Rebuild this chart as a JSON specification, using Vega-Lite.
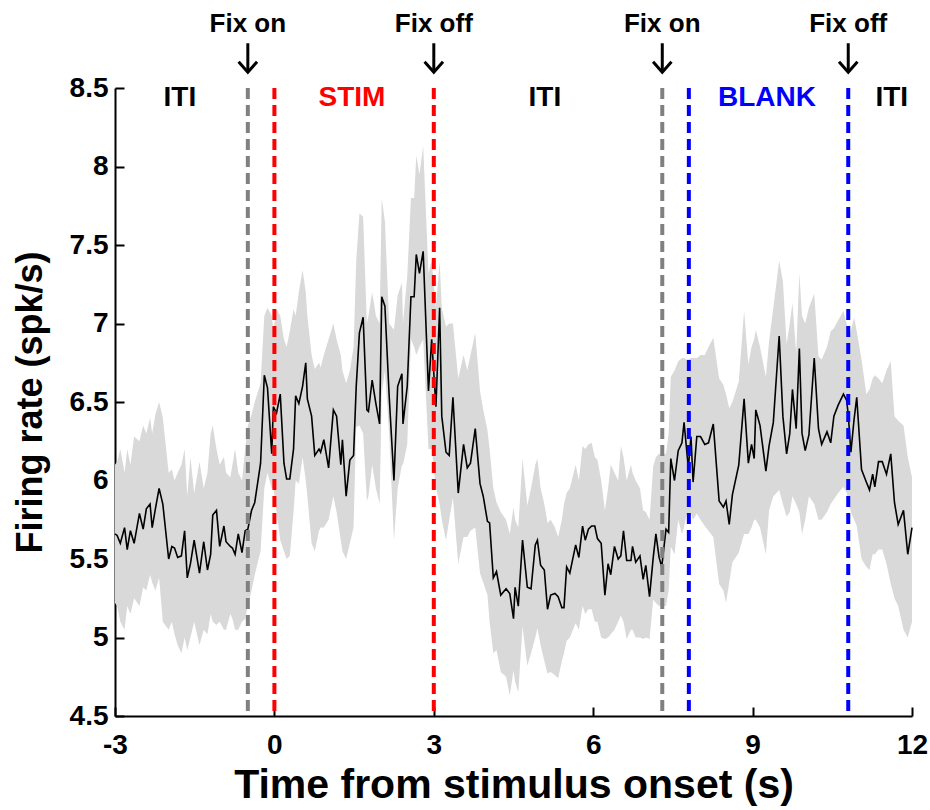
{
  "$schema": "https://vega.github.io/schema/vega-lite/v6.json",
  "width": 797,
  "height": 628,
  "autosize": {"type": "none"},
  "padding": {"left": 115, "top": 88, "right": 18, "bottom": 94},
  "background": "white",
  "config": {
    "view": {"stroke": null},
    "font": "Liberation Sans",
    "axis": {
      "grid": false,
      "domainColor": "black",
      "domainWidth": 2,
      "tickColor": "black",
      "tickWidth": 2,
      "tickSize": -9,
      "labelFont": "Liberation Sans",
      "labelFontSize": 28,
      "labelFontWeight": "bold",
      "labelColor": "black",
      "labelFlush": false,
      "labelOverlap": false,
      "labelExpr": "'' + datum.value",
      "titleFont": "Liberation Sans",
      "titleFontWeight": "bold",
      "titleColor": "black"
    },
    "axisX": {"labelPadding": 24, "titlePadding": 6, "titleFontSize": 41},
    "axisY": {"labelPadding": 16, "titlePadding": 20, "titleFontSize": 36}
  },
  "datasets": {
    "rate": [
      {"t": -3.00, "rate": 5.66, "lo": 5.22, "hi": 6.10},
      {"t": -2.96, "rate": 5.65, "lo": 5.20, "hi": 6.12},
      {"t": -2.90, "rate": 5.60, "lo": 5.10, "hi": 6.20},
      {"t": -2.82, "rate": 5.70, "lo": 5.05, "hi": 6.05},
      {"t": -2.77, "rate": 5.56, "lo": 5.20, "hi": 6.20},
      {"t": -2.71, "rate": 5.68, "lo": 5.15, "hi": 6.10},
      {"t": -2.64, "rate": 5.60, "lo": 5.25, "hi": 6.28},
      {"t": -2.54, "rate": 5.79, "lo": 5.20, "hi": 6.25},
      {"t": -2.47, "rate": 5.69, "lo": 5.32, "hi": 6.35},
      {"t": -2.41, "rate": 5.82, "lo": 5.30, "hi": 6.30},
      {"t": -2.34, "rate": 5.85, "lo": 5.40, "hi": 6.40},
      {"t": -2.30, "rate": 5.70, "lo": 5.35, "hi": 6.30},
      {"t": -2.24, "rate": 5.82, "lo": 5.30, "hi": 6.42},
      {"t": -2.17, "rate": 5.95, "lo": 5.38, "hi": 6.50},
      {"t": -2.10, "rate": 5.85, "lo": 5.10, "hi": 6.40},
      {"t": -1.99, "rate": 5.50, "lo": 5.05, "hi": 6.05},
      {"t": -1.93, "rate": 5.58, "lo": 5.10, "hi": 6.07},
      {"t": -1.88, "rate": 5.57, "lo": 5.02, "hi": 6.00},
      {"t": -1.82, "rate": 5.51, "lo": 4.95, "hi": 6.05},
      {"t": -1.75, "rate": 5.52, "lo": 4.90, "hi": 6.10},
      {"t": -1.69, "rate": 5.68, "lo": 5.00, "hi": 6.20},
      {"t": -1.64, "rate": 5.38, "lo": 4.92, "hi": 5.90},
      {"t": -1.58, "rate": 5.47, "lo": 5.00, "hi": 6.15},
      {"t": -1.51, "rate": 5.62, "lo": 5.10, "hi": 5.92},
      {"t": -1.41, "rate": 5.41, "lo": 4.95, "hi": 6.12},
      {"t": -1.33, "rate": 5.61, "lo": 5.05, "hi": 5.95},
      {"t": -1.26, "rate": 5.43, "lo": 5.02, "hi": 6.05},
      {"t": -1.20, "rate": 5.53, "lo": 5.15, "hi": 6.30},
      {"t": -1.16, "rate": 5.78, "lo": 5.10, "hi": 6.35},
      {"t": -1.09, "rate": 5.81, "lo": 5.08, "hi": 6.20},
      {"t": -1.03, "rate": 5.58, "lo": 5.10, "hi": 6.10},
      {"t": -0.95, "rate": 5.71, "lo": 5.05, "hi": 6.15},
      {"t": -0.91, "rate": 5.61, "lo": 5.05, "hi": 6.05},
      {"t": -0.83, "rate": 5.58, "lo": 5.15, "hi": 6.02},
      {"t": -0.79, "rate": 5.57, "lo": 5.12, "hi": 6.10},
      {"t": -0.74, "rate": 5.53, "lo": 5.05, "hi": 6.20},
      {"t": -0.68, "rate": 5.66, "lo": 5.05, "hi": 6.05},
      {"t": -0.61, "rate": 5.54, "lo": 5.10, "hi": 6.00},
      {"t": -0.55, "rate": 5.68, "lo": 5.12, "hi": 6.20},
      {"t": -0.50, "rate": 5.69, "lo": 5.20, "hi": 6.35},
      {"t": -0.43, "rate": 5.81, "lo": 5.30, "hi": 6.42},
      {"t": -0.37, "rate": 5.86, "lo": 5.40, "hi": 6.50},
      {"t": -0.26, "rate": 6.11, "lo": 5.55, "hi": 6.62},
      {"t": -0.19, "rate": 6.67, "lo": 5.95, "hi": 7.05},
      {"t": -0.13, "rate": 6.59, "lo": 6.05, "hi": 7.10},
      {"t": -0.05, "rate": 6.17, "lo": 5.95, "hi": 7.05},
      {"t": -0.02, "rate": 6.47, "lo": 5.96, "hi": 6.95},
      {"t": 0.04, "rate": 6.43, "lo": 5.80, "hi": 7.09},
      {"t": 0.11, "rate": 6.55, "lo": 5.62, "hi": 7.05},
      {"t": 0.18, "rate": 6.11, "lo": 5.55, "hi": 6.90},
      {"t": 0.23, "rate": 6.01, "lo": 5.50, "hi": 6.85},
      {"t": 0.29, "rate": 6.01, "lo": 5.52, "hi": 6.95},
      {"t": 0.36, "rate": 6.20, "lo": 5.80, "hi": 7.09},
      {"t": 0.40, "rate": 6.54, "lo": 6.00, "hi": 7.05},
      {"t": 0.46, "rate": 6.49, "lo": 5.98, "hi": 7.20},
      {"t": 0.53, "rate": 6.60, "lo": 6.15, "hi": 7.34},
      {"t": 0.59, "rate": 6.75, "lo": 6.00, "hi": 7.20},
      {"t": 0.62, "rate": 6.52, "lo": 5.90, "hi": 7.05},
      {"t": 0.70, "rate": 6.41, "lo": 5.60, "hi": 6.80},
      {"t": 0.76, "rate": 6.16, "lo": 5.55, "hi": 6.71},
      {"t": 0.84, "rate": 6.20, "lo": 5.68, "hi": 6.75},
      {"t": 0.87, "rate": 6.18, "lo": 5.70, "hi": 6.72},
      {"t": 0.93, "rate": 6.26, "lo": 5.70, "hi": 6.80},
      {"t": 1.02, "rate": 6.08, "lo": 5.75, "hi": 6.90},
      {"t": 1.11, "rate": 6.45, "lo": 5.90, "hi": 7.00},
      {"t": 1.17, "rate": 6.41, "lo": 5.80, "hi": 6.90},
      {"t": 1.25, "rate": 6.10, "lo": 5.62, "hi": 6.80},
      {"t": 1.28, "rate": 6.26, "lo": 5.55, "hi": 6.70},
      {"t": 1.35, "rate": 5.90, "lo": 5.50, "hi": 6.62},
      {"t": 1.42, "rate": 6.13, "lo": 5.60, "hi": 6.70},
      {"t": 1.49, "rate": 6.16, "lo": 5.70, "hi": 6.85},
      {"t": 1.54, "rate": 6.60, "lo": 6.34, "hi": 7.40},
      {"t": 1.60, "rate": 6.94, "lo": 6.35, "hi": 7.70},
      {"t": 1.67, "rate": 7.04, "lo": 6.30, "hi": 7.68},
      {"t": 1.74, "rate": 6.45, "lo": 5.87, "hi": 7.00},
      {"t": 1.77, "rate": 6.44, "lo": 5.90, "hi": 7.05},
      {"t": 1.84, "rate": 6.64, "lo": 6.10, "hi": 7.20},
      {"t": 1.91, "rate": 6.49, "lo": 5.95, "hi": 7.05},
      {"t": 1.98, "rate": 6.36, "lo": 5.85, "hi": 7.00},
      {"t": 2.02, "rate": 7.17, "lo": 6.55, "hi": 7.80},
      {"t": 2.08, "rate": 7.11, "lo": 6.70, "hi": 7.65},
      {"t": 2.16, "rate": 6.54, "lo": 6.30, "hi": 7.00},
      {"t": 2.25, "rate": 6.00, "lo": 5.62, "hi": 6.96},
      {"t": 2.32, "rate": 6.60, "lo": 5.95, "hi": 7.18},
      {"t": 2.40, "rate": 6.68, "lo": 6.10, "hi": 7.26},
      {"t": 2.42, "rate": 6.36, "lo": 6.10, "hi": 7.00},
      {"t": 2.50, "rate": 6.60, "lo": 6.23, "hi": 7.30},
      {"t": 2.57, "rate": 7.17, "lo": 6.90, "hi": 7.80},
      {"t": 2.63, "rate": 7.17, "lo": 6.85, "hi": 7.80},
      {"t": 2.67, "rate": 7.44, "lo": 6.80, "hi": 8.07},
      {"t": 2.73, "rate": 7.32, "lo": 6.85, "hi": 7.95},
      {"t": 2.80, "rate": 7.46, "lo": 6.90, "hi": 8.13},
      {"t": 2.90, "rate": 6.57, "lo": 6.20, "hi": 7.32},
      {"t": 2.96, "rate": 6.90, "lo": 6.20, "hi": 7.40},
      {"t": 3.04, "rate": 6.47, "lo": 5.95, "hi": 7.10},
      {"t": 3.11, "rate": 7.10, "lo": 5.85, "hi": 7.40},
      {"t": 3.15, "rate": 6.41, "lo": 5.75, "hi": 7.10},
      {"t": 3.23, "rate": 6.18, "lo": 5.62, "hi": 6.98},
      {"t": 3.29, "rate": 6.16, "lo": 5.75, "hi": 7.00},
      {"t": 3.36, "rate": 6.53, "lo": 5.89, "hi": 7.00},
      {"t": 3.46, "rate": 5.92, "lo": 5.47, "hi": 6.65},
      {"t": 3.56, "rate": 6.23, "lo": 5.64, "hi": 6.80},
      {"t": 3.63, "rate": 6.08, "lo": 5.64, "hi": 6.70},
      {"t": 3.69, "rate": 6.11, "lo": 5.68, "hi": 6.80},
      {"t": 3.78, "rate": 6.33, "lo": 5.70, "hi": 6.94},
      {"t": 3.87, "rate": 5.98, "lo": 5.41, "hi": 6.57},
      {"t": 3.93, "rate": 5.90, "lo": 5.35, "hi": 6.45},
      {"t": 4.01, "rate": 5.74, "lo": 5.27, "hi": 6.32},
      {"t": 4.05, "rate": 5.73, "lo": 5.10, "hi": 6.20},
      {"t": 4.12, "rate": 5.38, "lo": 4.90, "hi": 5.95},
      {"t": 4.18, "rate": 5.42, "lo": 4.92, "hi": 5.86},
      {"t": 4.26, "rate": 5.27, "lo": 4.78, "hi": 5.80},
      {"t": 4.36, "rate": 5.31, "lo": 4.75, "hi": 5.75},
      {"t": 4.43, "rate": 5.28, "lo": 4.63, "hi": 5.66},
      {"t": 4.50, "rate": 5.12, "lo": 4.79, "hi": 5.83},
      {"t": 4.53, "rate": 5.32, "lo": 4.72, "hi": 5.75},
      {"t": 4.59, "rate": 5.20, "lo": 4.65, "hi": 5.70},
      {"t": 4.67, "rate": 5.62, "lo": 5.07, "hi": 6.14},
      {"t": 4.76, "rate": 5.32, "lo": 4.82, "hi": 5.84},
      {"t": 4.83, "rate": 5.31, "lo": 4.90, "hi": 5.95},
      {"t": 4.91, "rate": 5.59, "lo": 5.00, "hi": 6.10},
      {"t": 4.95, "rate": 5.62, "lo": 5.06, "hi": 6.14},
      {"t": 5.01, "rate": 5.46, "lo": 4.95, "hi": 5.95},
      {"t": 5.08, "rate": 5.43, "lo": 4.85, "hi": 5.85},
      {"t": 5.14, "rate": 5.18, "lo": 4.77, "hi": 5.73},
      {"t": 5.20, "rate": 5.27, "lo": 4.78, "hi": 5.75},
      {"t": 5.28, "rate": 5.28, "lo": 4.76, "hi": 5.70},
      {"t": 5.34, "rate": 5.26, "lo": 4.74, "hi": 5.64},
      {"t": 5.41, "rate": 5.19, "lo": 4.85, "hi": 5.75},
      {"t": 5.45, "rate": 5.19, "lo": 4.90, "hi": 5.85},
      {"t": 5.50, "rate": 5.45, "lo": 4.98, "hi": 5.92},
      {"t": 5.56, "rate": 5.41, "lo": 5.00, "hi": 5.95},
      {"t": 5.67, "rate": 5.59, "lo": 5.09, "hi": 6.10},
      {"t": 5.73, "rate": 5.51, "lo": 5.05, "hi": 6.00},
      {"t": 5.80, "rate": 5.71, "lo": 5.20, "hi": 6.22},
      {"t": 5.85, "rate": 5.62, "lo": 5.15, "hi": 6.20},
      {"t": 5.91, "rate": 5.69, "lo": 5.18, "hi": 6.23},
      {"t": 5.97, "rate": 5.71, "lo": 5.18, "hi": 6.24},
      {"t": 6.03, "rate": 5.71, "lo": 5.10, "hi": 6.15},
      {"t": 6.08, "rate": 5.63, "lo": 5.10, "hi": 6.13},
      {"t": 6.15, "rate": 5.60, "lo": 5.00, "hi": 6.00},
      {"t": 6.22, "rate": 5.27, "lo": 4.99, "hi": 5.81},
      {"t": 6.28, "rate": 5.47, "lo": 5.00, "hi": 5.95},
      {"t": 6.33, "rate": 5.40, "lo": 5.02, "hi": 6.10},
      {"t": 6.40, "rate": 5.58, "lo": 5.05, "hi": 6.05},
      {"t": 6.47, "rate": 5.50, "lo": 5.10, "hi": 6.00},
      {"t": 6.52, "rate": 5.52, "lo": 5.14, "hi": 6.22},
      {"t": 6.57, "rate": 5.68, "lo": 5.10, "hi": 6.15},
      {"t": 6.63, "rate": 5.49, "lo": 4.99, "hi": 6.00},
      {"t": 6.71, "rate": 5.49, "lo": 5.05, "hi": 6.10},
      {"t": 6.74, "rate": 5.58, "lo": 5.05, "hi": 6.05},
      {"t": 6.80, "rate": 5.48, "lo": 5.00, "hi": 6.00},
      {"t": 6.88, "rate": 5.52, "lo": 5.00, "hi": 5.95},
      {"t": 6.94, "rate": 5.37, "lo": 4.99, "hi": 5.81},
      {"t": 6.99, "rate": 5.46, "lo": 5.00, "hi": 5.80},
      {"t": 7.06, "rate": 5.26, "lo": 4.99, "hi": 5.75},
      {"t": 7.13, "rate": 5.51, "lo": 5.24, "hi": 6.09},
      {"t": 7.18, "rate": 5.66, "lo": 5.22, "hi": 6.15},
      {"t": 7.24, "rate": 5.51, "lo": 5.20, "hi": 6.17},
      {"t": 7.29, "rate": 5.45, "lo": 5.20, "hi": 6.17},
      {"t": 7.37, "rate": 5.69, "lo": 5.20, "hi": 6.17},
      {"t": 7.42, "rate": 5.67, "lo": 5.30, "hi": 6.30},
      {"t": 7.46, "rate": 6.14, "lo": 5.58, "hi": 6.66},
      {"t": 7.53, "rate": 6.00, "lo": 5.53, "hi": 6.70},
      {"t": 7.60, "rate": 6.19, "lo": 5.75, "hi": 6.76},
      {"t": 7.67, "rate": 6.24, "lo": 5.66, "hi": 6.78},
      {"t": 7.71, "rate": 6.37, "lo": 5.70, "hi": 6.78},
      {"t": 7.76, "rate": 6.19, "lo": 5.79, "hi": 6.77},
      {"t": 7.79, "rate": 6.08, "lo": 5.75, "hi": 6.77},
      {"t": 7.84, "rate": 6.28, "lo": 5.79, "hi": 6.78},
      {"t": 7.88, "rate": 5.99, "lo": 5.75, "hi": 6.78},
      {"t": 7.95, "rate": 6.28, "lo": 5.79, "hi": 6.78},
      {"t": 8.02, "rate": 6.28, "lo": 5.75, "hi": 6.80},
      {"t": 8.10, "rate": 6.23, "lo": 5.71, "hi": 6.80},
      {"t": 8.17, "rate": 6.24, "lo": 5.68, "hi": 6.85},
      {"t": 8.26, "rate": 6.36, "lo": 5.64, "hi": 6.91},
      {"t": 8.37, "rate": 5.87, "lo": 5.34, "hi": 6.65},
      {"t": 8.45, "rate": 5.83, "lo": 5.30, "hi": 6.61},
      {"t": 8.50, "rate": 5.87, "lo": 5.22, "hi": 6.55},
      {"t": 8.56, "rate": 5.72, "lo": 5.35, "hi": 6.46},
      {"t": 8.62, "rate": 5.91, "lo": 5.48, "hi": 6.50},
      {"t": 8.74, "rate": 6.10, "lo": 5.54, "hi": 6.63},
      {"t": 8.84, "rate": 6.52, "lo": 5.66, "hi": 7.08},
      {"t": 8.92, "rate": 6.11, "lo": 5.66, "hi": 6.74},
      {"t": 8.98, "rate": 6.23, "lo": 5.70, "hi": 6.85},
      {"t": 9.03, "rate": 6.14, "lo": 5.75, "hi": 6.90},
      {"t": 9.06, "rate": 6.45, "lo": 5.75, "hi": 6.96},
      {"t": 9.14, "rate": 6.35, "lo": 5.70, "hi": 6.85},
      {"t": 9.25, "rate": 6.06, "lo": 5.53, "hi": 6.66},
      {"t": 9.31, "rate": 6.22, "lo": 5.81, "hi": 6.89},
      {"t": 9.39, "rate": 6.37, "lo": 5.90, "hi": 7.10},
      {"t": 9.50, "rate": 6.92, "lo": 5.94, "hi": 7.40},
      {"t": 9.57, "rate": 6.41, "lo": 5.85, "hi": 7.27},
      {"t": 9.64, "rate": 6.17, "lo": 5.77, "hi": 6.87},
      {"t": 9.70, "rate": 6.30, "lo": 5.80, "hi": 7.00},
      {"t": 9.75, "rate": 6.58, "lo": 5.90, "hi": 7.13},
      {"t": 9.82, "rate": 6.33, "lo": 5.85, "hi": 6.81},
      {"t": 9.88, "rate": 6.84, "lo": 5.80, "hi": 7.32},
      {"t": 9.93, "rate": 6.30, "lo": 5.66, "hi": 7.05},
      {"t": 9.99, "rate": 6.19, "lo": 5.75, "hi": 7.00},
      {"t": 10.06, "rate": 6.29, "lo": 5.90, "hi": 7.10},
      {"t": 10.16, "rate": 6.78, "lo": 5.85, "hi": 7.19},
      {"t": 10.24, "rate": 6.33, "lo": 5.75, "hi": 6.79},
      {"t": 10.30, "rate": 6.23, "lo": 5.75, "hi": 6.77},
      {"t": 10.40, "rate": 6.31, "lo": 5.80, "hi": 6.85},
      {"t": 10.47, "rate": 6.24, "lo": 5.85, "hi": 6.95},
      {"t": 10.53, "rate": 6.41, "lo": 5.88, "hi": 6.97},
      {"t": 10.61, "rate": 6.48, "lo": 5.92, "hi": 7.02},
      {"t": 10.71, "rate": 6.55, "lo": 5.96, "hi": 7.08},
      {"t": 10.77, "rate": 6.51, "lo": 5.92, "hi": 7.00},
      {"t": 10.80, "rate": 6.42, "lo": 5.88, "hi": 6.92},
      {"t": 10.85, "rate": 6.18, "lo": 5.80, "hi": 6.95},
      {"t": 10.91, "rate": 6.39, "lo": 5.75, "hi": 7.04},
      {"t": 10.96, "rate": 6.53, "lo": 5.71, "hi": 6.95},
      {"t": 11.05, "rate": 6.07, "lo": 5.50, "hi": 6.77},
      {"t": 11.14, "rate": 5.99, "lo": 5.45, "hi": 6.55},
      {"t": 11.20, "rate": 5.94, "lo": 5.43, "hi": 6.58},
      {"t": 11.26, "rate": 6.04, "lo": 5.53, "hi": 6.65},
      {"t": 11.30, "rate": 5.96, "lo": 5.53, "hi": 6.67},
      {"t": 11.37, "rate": 6.12, "lo": 5.56, "hi": 6.65},
      {"t": 11.44, "rate": 6.12, "lo": 5.56, "hi": 6.62},
      {"t": 11.52, "rate": 6.04, "lo": 5.47, "hi": 6.70},
      {"t": 11.60, "rate": 6.17, "lo": 5.34, "hi": 6.76},
      {"t": 11.67, "rate": 5.86, "lo": 5.25, "hi": 6.41},
      {"t": 11.74, "rate": 5.72, "lo": 5.20, "hi": 6.38},
      {"t": 11.84, "rate": 5.81, "lo": 5.05, "hi": 6.35},
      {"t": 11.92, "rate": 5.53, "lo": 5.00, "hi": 6.15},
      {"t": 12.00, "rate": 5.70, "lo": 5.10, "hi": 6.02}
    ],
    "events": [
      {"t": -0.5, "kind": "fixation", "label": "Fix on"},
      {"t": 0, "kind": "stim", "label": ""},
      {"t": 3, "kind": "stim", "label": "Fix off"},
      {"t": 7.3, "kind": "fixation", "label": "Fix on"},
      {"t": 7.8, "kind": "blank", "label": ""},
      {"t": 10.8, "kind": "blank", "label": "Fix off"}
    ],
    "periods": [
      {"t": -1.78, "kind": "iti", "label": "ITI"},
      {"t": 1.46, "kind": "stim", "label": "STIM"},
      {"t": 5.09, "kind": "iti", "label": "ITI"},
      {"t": 9.27, "kind": "blank", "label": "BLANK"},
      {"t": 11.62, "kind": "iti", "label": "ITI"}
    ]
  },
  "encoding": {
    "x": {
      "field": "t",
      "type": "quantitative",
      "title": "Time from stimulus onset (s)",
      "scale": {"domain": [-3, 12], "nice": false, "zero": false},
      "axis": {"values": [-3, 0, 3, 6, 9, 12]}
    }
  },
  "layer": [
    {
      "data": {"name": "rate"},
      "mark": {"type": "area", "color": "#d9d9d9", "opacity": 1},
      "encoding": {
        "y": {
          "field": "lo",
          "type": "quantitative",
          "title": "Firing rate (spk/s)",
          "scale": {"domain": [4.5, 8.5], "nice": false, "zero": false},
          "axis": {"values": [4.5, 5, 5.5, 6, 6.5, 7, 7.5, 8, 8.5]}
        },
        "y2": {"field": "hi"}
      }
    },
    {
      "data": {"name": "rate"},
      "mark": {"type": "line", "color": "black", "strokeWidth": 1.6},
      "encoding": {
        "y": {"field": "rate", "type": "quantitative", "title": "Firing rate (spk/s)"}
      }
    },
    {
      "data": {"name": "events"},
      "mark": {"type": "rule", "strokeWidth": 4, "strokeDash": [11, 6]},
      "encoding": {
        "color": {
          "field": "kind",
          "type": "nominal",
          "legend": null,
          "scale": {"domain": ["fixation", "stim", "blank", "iti"], "range": ["#808080", "#ff0000", "#0000ff", "#000000"]}
        }
      }
    },
    {
      "data": {"name": "events"},
      "transform": [{"filter": "datum.label != ''"}],
      "mark": {"type": "text", "fontSize": 26, "fontWeight": "bold", "color": "black", "baseline": "middle", "align": "center"},
      "encoding": {
        "y": {"datum": 8.91, "type": "quantitative", "title": "Firing rate (spk/s)"},
        "text": {"field": "label"}
      }
    },
    {
      "data": {"name": "events"},
      "transform": [{"filter": "datum.label != ''"}],
      "mark": {"type": "rule", "color": "black", "strokeWidth": 3, "clip": false},
      "encoding": {
        "y": {"datum": 8.785, "type": "quantitative", "title": "Firing rate (spk/s)"},
        "y2": {"datum": 8.605}
      }
    },
    {
      "data": {"name": "events"},
      "transform": [{"filter": "datum.label != ''"}],
      "mark": {"type": "point", "shape": "M-1,-1.15L0,0L1,-1.15", "filled": false, "stroke": "black", "strokeWidth": 3, "size": 340, "opacity": 1, "strokeJoin": "miter", "clip": false},
      "encoding": {
        "y": {"datum": 8.60, "type": "quantitative", "title": "Firing rate (spk/s)"}
      }
    },
    {
      "data": {"name": "periods"},
      "mark": {"type": "text", "fontSize": 28, "fontWeight": "bold", "baseline": "middle", "align": "center"},
      "encoding": {
        "y": {"datum": 8.436, "type": "quantitative", "title": "Firing rate (spk/s)"},
        "text": {"field": "label"},
        "color": {"field": "kind", "type": "nominal", "legend": null}
      }
    }
  ]
}
